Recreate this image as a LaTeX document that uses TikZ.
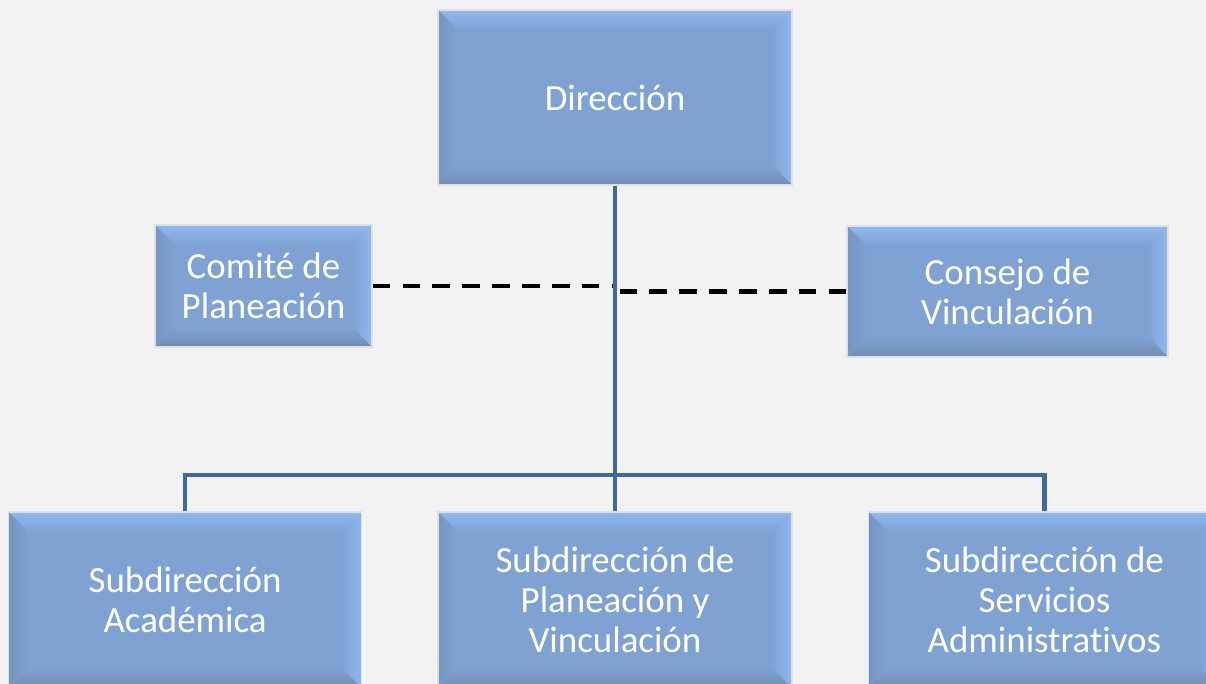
\documentclass[tikz,border=0pt]{standalone}
\usepackage{fontspec}
\setmainfont{Carlito}[Ligatures=NoCommon]
\usepackage{tikz}
\usetikzlibrary{positioning, calc}

\definecolor{boxblue}{RGB}{127,162,211}
\definecolor{boxlight}{RGB}{143,184,240}
\definecolor{boxdark}{RGB}{114,140,178}
\definecolor{boxleft}{RGB}{118,148,192}
\definecolor{linkblue}{RGB}{65,104,154}
\definecolor{pagegray}{RGB}{242,242,242}
\newcommand{\bev}{0.4cm}

\tikzset{
  orgbox/.style={rectangle, draw=black!12, line width=0.8pt, fill=boxblue,
    text=white, align=center, inner sep=0pt,
    font=\fontsize{21}{22.7}\selectfont,
    path picture={
      \coordinate (p1) at (path picture bounding box.north west);
      \coordinate (p2) at (path picture bounding box.north east);
      \coordinate (p3) at (path picture bounding box.south east);
      \coordinate (p4) at (path picture bounding box.south west);
      \shade[top color=boxlight, bottom color=boxblue]
        (p1) -- (p2) -- ($(p2)+(-\bev,-\bev)$) -- ($(p1)+(\bev,-\bev)$) -- cycle;
      \shade[right color=boxlight, left color=boxblue]
        (p2) -- (p3) -- ($(p3)+(-\bev,\bev)$) -- ($(p2)+(-\bev,-\bev)$) -- cycle;
      \shade[bottom color=boxdark, top color=boxblue]
        (p3) -- (p4) -- ($(p4)+(\bev,\bev)$) -- ($(p3)+(-\bev,\bev)$) -- cycle;
      \shade[left color=boxleft, right color=boxblue]
        (p4) -- (p1) -- ($(p1)+(\bev,-\bev)$) -- ($(p4)+(\bev,\bev)$) -- cycle;
    }},
  solidlink/.style={draw=linkblue, line width=2.4pt},
  dashlink/.style={draw=black, line width=2.4pt, dash pattern=on 10pt off 7pt}
}

\begin{document}
\begin{tikzpicture}
  \fill[pagegray] (0,0) rectangle (24.12,-13.68);
  \clip (0,0) rectangle (24.12,-13.68);

  \node[orgbox, minimum width=7.08cm, minimum height=3.5cm] (dir) at (12.30,-1.95) {Dirección};
  \node[orgbox, minimum width=4.34cm, minimum height=2.44cm] (comite) at (5.27,-5.72) {Comité de\\Planeación};
  \node[orgbox, minimum width=6.42cm, minimum height=2.62cm] (consejo) at (20.15,-5.83) {Consejo de\\Vinculación};

  \node[orgbox, minimum width=7.08cm, minimum height=3.52cm] (planvinc) at (12.30,-12.00) {Subdirección de\\Planeación y\\Vinculación};
  \node[orgbox, minimum width=7.06cm, minimum height=3.52cm, left=1.5cm of planvinc] (acad) {Subdirección\\Académica};
  \node[orgbox, minimum width=7.04cm, minimum height=3.52cm, right=1.5cm of planvinc] (admin) {Subdirección de\\Servicios\\Administrativos};

  \coordinate (bus) at (12.30,-9.50);

  \draw[dashlink] (comite.east) -- (comite.east -| dir.south);
  \draw[dashlink] (consejo.west) -- (consejo.west -| dir.south);

  \draw[solidlink] (dir.south) -- (planvinc.north);
  \draw[solidlink] (acad.north) -- (acad.north |- bus) -- (admin.north |- bus) -- (admin.north);
\end{tikzpicture}
\end{document}
